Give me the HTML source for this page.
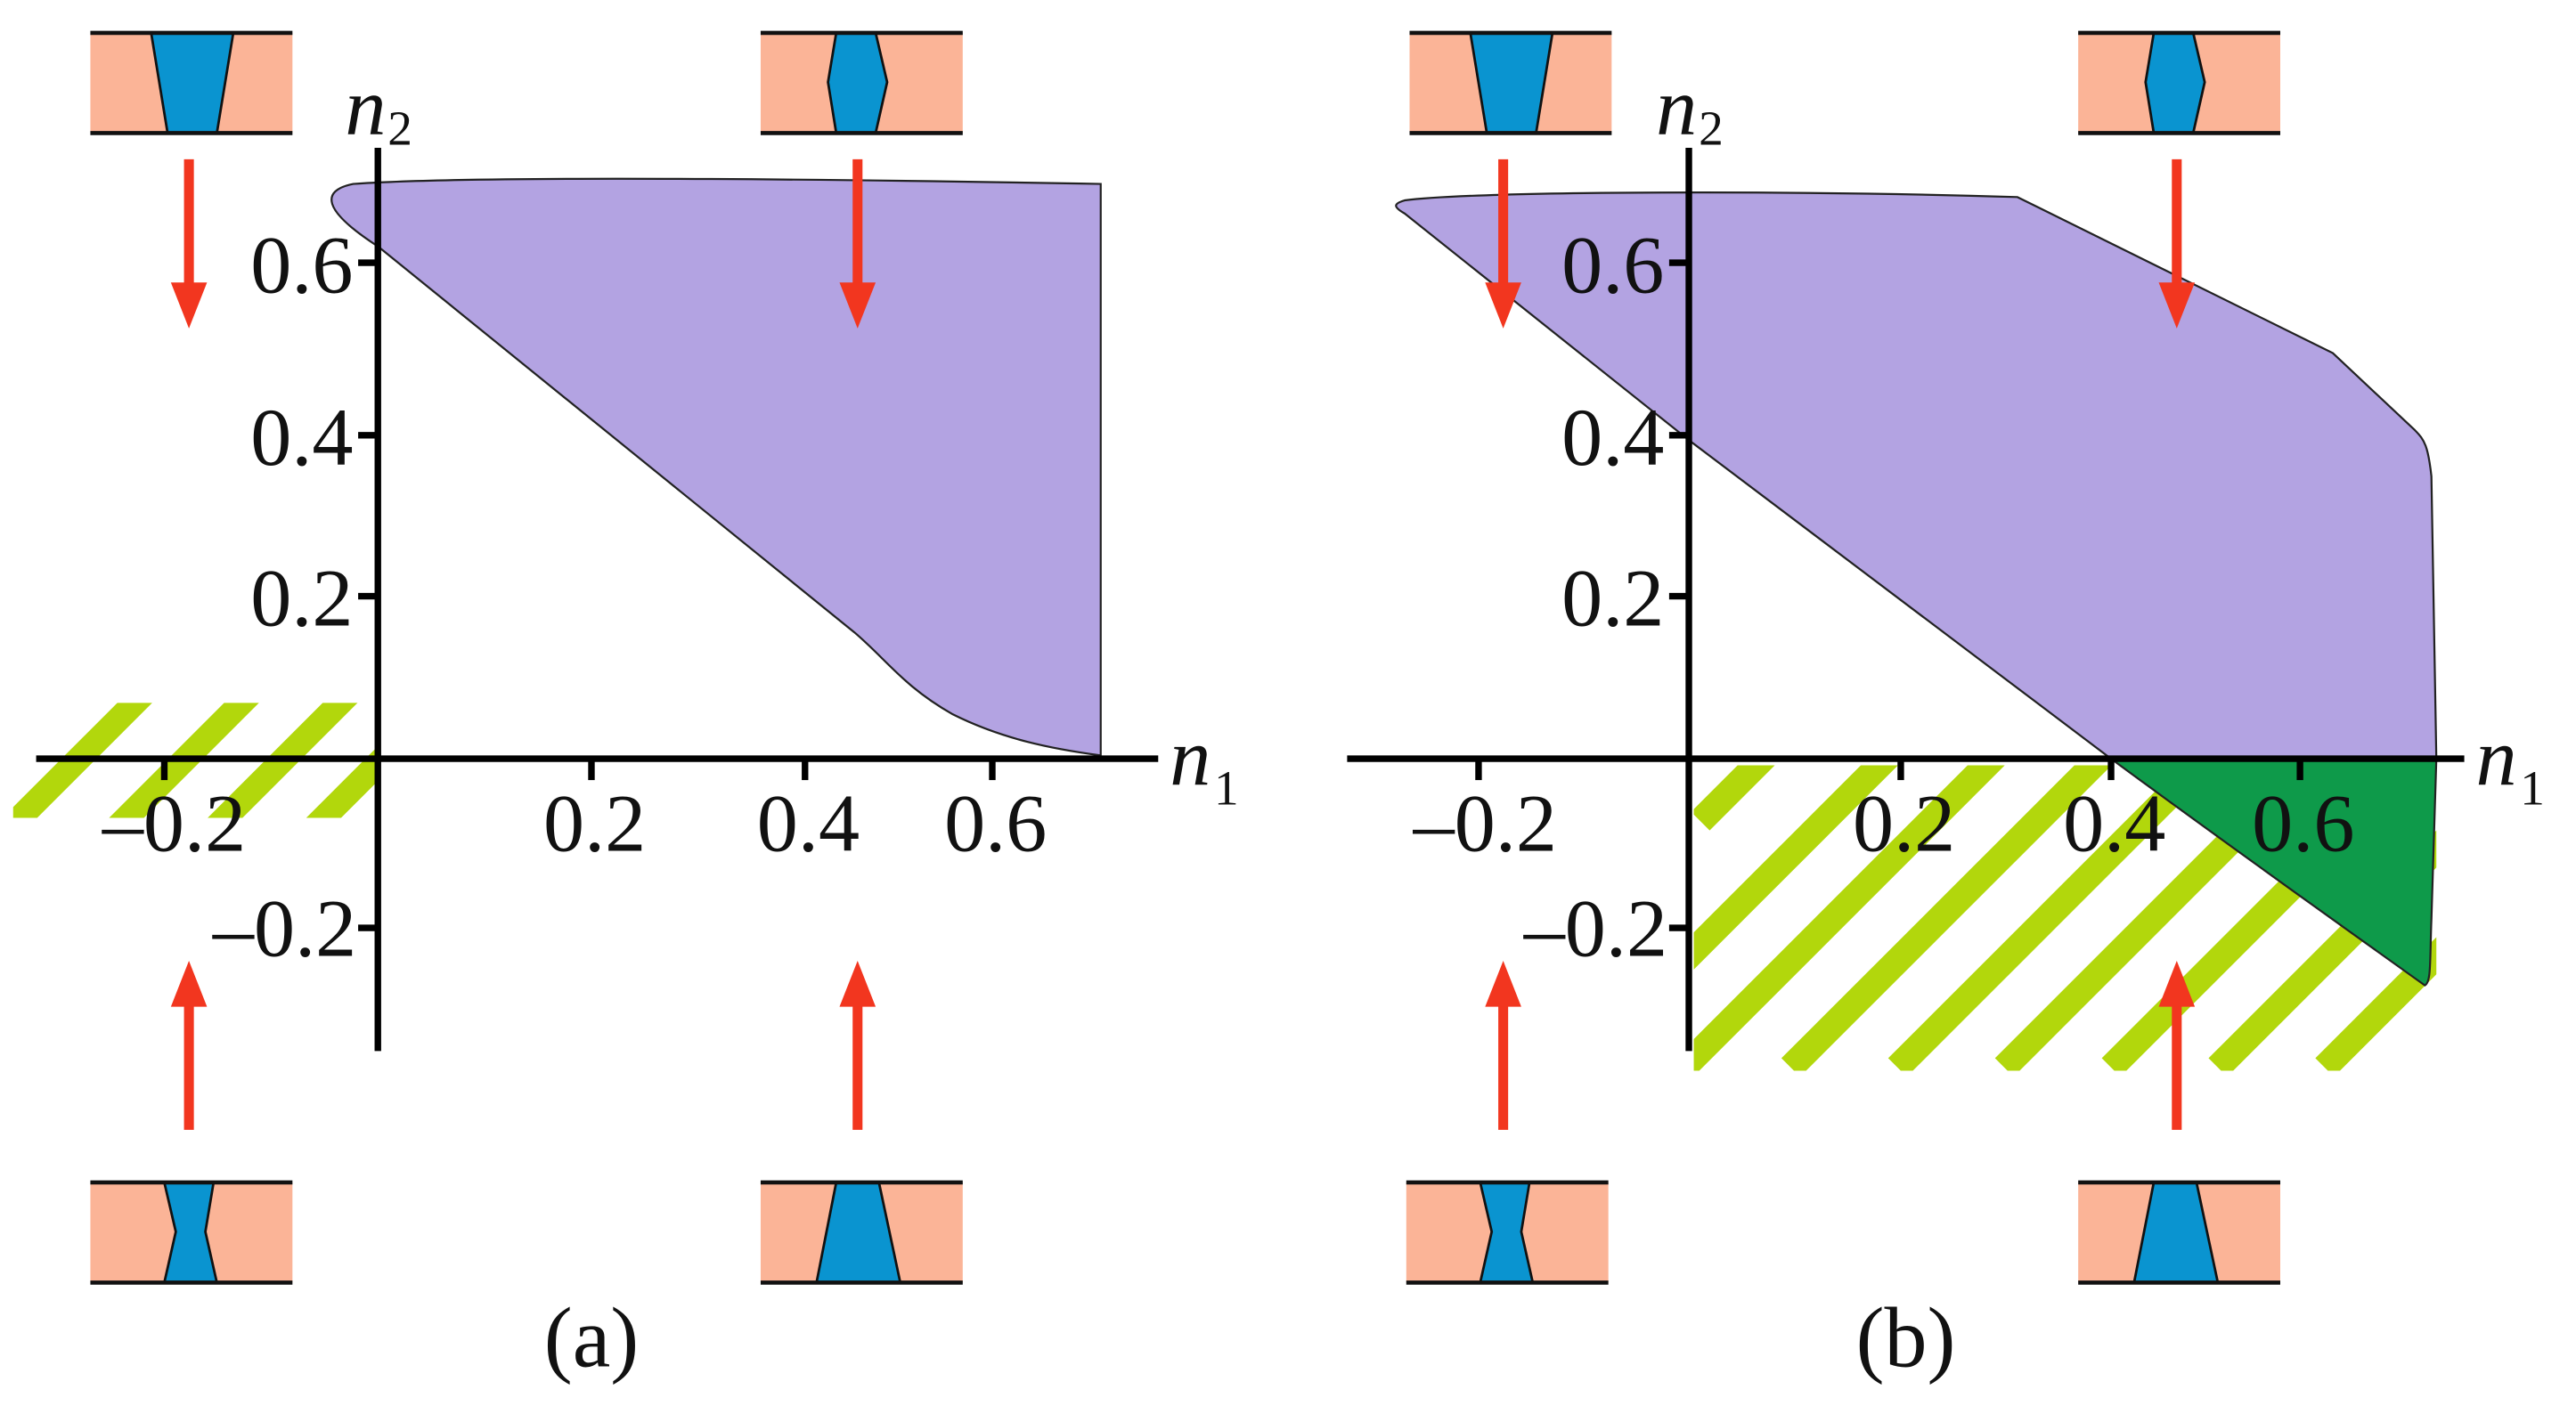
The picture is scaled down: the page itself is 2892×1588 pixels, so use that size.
<!DOCTYPE html>
<html><head><meta charset="utf-8"><style>html,body{margin:0;padding:0;background:#fff}svg{display:block}</style></head>
<body>
<svg width="2892" height="1588" viewBox="0 0 1568 861" xmlns="http://www.w3.org/2000/svg" font-family="'Liberation Serif',serif">
<defs>
<clipPath id="ca"><rect x="8" y="428" width="222" height="70"/></clipPath>
<clipPath id="cb"><rect x="1031" y="466" width="452" height="186"/></clipPath>
<g id="arrD"><line x1="0" y1="97" x2="0" y2="175" stroke="#f2361f" stroke-width="6"/><polygon points="-11,172 11,172 0,200" fill="#f2361f"/></g>
<g id="arrU"><line x1="0" y1="688" x2="0" y2="610" stroke="#f2361f" stroke-width="6"/><polygon points="-11,613 11,613 0,585" fill="#f2361f"/></g>
<g id="ic1"><rect x="0" y="20" width="123" height="61" fill="#fbb497"/><polygon points="37,20 87,20 77,81 47,81" fill="#0a94d0" stroke="#111" stroke-width="1.5"/><line x1="0" y1="20" x2="123" y2="20" stroke="#111" stroke-width="2.5"/><line x1="0" y1="81" x2="123" y2="81" stroke="#111" stroke-width="2.5"/></g>
<g id="ic2"><rect x="0" y="20" width="123" height="61" fill="#fbb497"/><polygon points="46,20 70,20 77,50 70,81 46,81 41,50" fill="#0a94d0" stroke="#111" stroke-width="1.5"/><line x1="0" y1="20" x2="123" y2="20" stroke="#111" stroke-width="2.5"/><line x1="0" y1="81" x2="123" y2="81" stroke="#111" stroke-width="2.5"/></g>
<g id="ic3"><rect x="0" y="720" width="123" height="61" fill="#fbb497"/><polygon points="45,720 75,720 70,750 77,781 45,781 52,750" fill="#0a94d0" stroke="#111" stroke-width="1.5"/><line x1="0" y1="720" x2="123" y2="720" stroke="#111" stroke-width="2.5"/><line x1="0" y1="781" x2="123" y2="781" stroke="#111" stroke-width="2.5"/></g>
<g id="ic4"><rect x="0" y="720" width="123" height="61" fill="#fbb497"/><polygon points="46,720 72,720 85,781 34,781" fill="#0a94d0" stroke="#111" stroke-width="1.5"/><line x1="0" y1="720" x2="123" y2="720" stroke="#111" stroke-width="2.5"/><line x1="0" y1="781" x2="123" y2="781" stroke="#111" stroke-width="2.5"/></g>
</defs>

<!-- Panel a -->
<g clip-path="url(#ca)" stroke="#b2d70c" stroke-width="15">
<line x1="0" y1="510" x2="90" y2="420"/><line x1="65" y1="510" x2="155" y2="420"/><line x1="125" y1="510" x2="215" y2="420"/><line x1="185" y1="510" x2="275" y2="420"/>
</g>
<path d="M230,150 L520,385 C540,402 550,418 580,435 C610,450 640,456 670,460 L670,112 C560,110 300,106 215,112 C195,116 196,128 230,150 Z" fill="#b3a3e2" stroke="#222" stroke-width="1.2"/>
<g stroke="#000" stroke-width="4">
<line x1="230" y1="90" x2="230" y2="640"/><line x1="22" y1="462" x2="705" y2="462"/>
<line x1="218" y1="160" x2="230" y2="160"/><line x1="218" y1="265" x2="230" y2="265"/><line x1="218" y1="363" x2="230" y2="363"/><line x1="218" y1="565" x2="230" y2="565"/>
<line x1="360" y1="462" x2="360" y2="475"/><line x1="490" y1="462" x2="490" y2="475"/><line x1="604" y1="462" x2="604" y2="475"/><line x1="100" y1="462" x2="100" y2="475"/>
</g>
<g font-size="50" fill="#111">
<text x="215" y="178" text-anchor="end">0.6</text><text x="215" y="283" text-anchor="end">0.4</text><text x="215" y="381" text-anchor="end">0.2</text><text x="217" y="582" text-anchor="end">–0.2</text>
<text x="362" y="518" text-anchor="middle">0.2</text><text x="492" y="518" text-anchor="middle">0.4</text><text x="606" y="518" text-anchor="middle">0.6</text><text x="106" y="518" text-anchor="middle">–0.2</text>
<text x="210" y="82" font-style="italic" font-size="50">n</text><text x="236" y="88" font-size="30">2</text>
<text x="712" y="478" font-style="italic" font-size="50">n</text><text x="739" y="490" font-size="30">1</text>
<text x="360" y="832" text-anchor="middle" font-size="52">(a)</text>
</g>
<use href="#arrD" x="115"/><use href="#arrD" x="522"/><use href="#arrU" x="115"/><use href="#arrU" x="522"/>
<use href="#ic1" x="55"/><use href="#ic2" x="463"/><use href="#ic3" x="55"/><use href="#ic4" x="463"/>

<!-- Panel b -->
<g clip-path="url(#cb)" stroke="#b2d70c" stroke-width="16">
<line x1="1335" y1="200" x2="1035" y2="500"/>
<line x1="1500" y1="110" x2="1000" y2="610"/>
<line x1="1565" y1="110" x2="1025" y2="650"/>
<line x1="1630" y1="110" x2="1090" y2="650"/>
<line x1="1695" y1="110" x2="1155" y2="650"/>
<line x1="1760" y1="110" x2="1220" y2="650"/>
<line x1="1825" y1="110" x2="1285" y2="650"/>
<line x1="1890" y1="110" x2="1350" y2="650"/>
<line x1="1955" y1="110" x2="1415" y2="650"/>
</g>
<path d="M855,130 L1028,268 L1285,462 L1483,462 L1480,290 C1478,272 1476,268 1470,262 L1420,215 L1228,120 C1100,116 900,116 855,122 C848,124 848,126 855,130 Z" fill="#b3a3e2" stroke="#222" stroke-width="1.2"/>
<path d="M1285,462 L1483,462 L1480,560 C1479,585 1480,598 1476,600 C1420,560 1350,510 1285,462 Z" fill="#0e9a4a" stroke="#222" stroke-width="1.2"/>
<g stroke="#000" stroke-width="4">
<line x1="1028" y1="90" x2="1028" y2="640"/><line x1="820" y1="462" x2="1500" y2="462"/>
<line x1="1016" y1="160" x2="1028" y2="160"/><line x1="1016" y1="265" x2="1028" y2="265"/><line x1="1016" y1="363" x2="1028" y2="363"/><line x1="1016" y1="565" x2="1028" y2="565"/>
<line x1="1157" y1="462" x2="1157" y2="475"/><line x1="1285" y1="462" x2="1285" y2="475"/><line x1="1400" y1="462" x2="1400" y2="475"/><line x1="900" y1="462" x2="900" y2="475"/>
</g>
<g font-size="50" fill="#111">
<text x="1013" y="178" text-anchor="end">0.6</text><text x="1013" y="283" text-anchor="end">0.4</text><text x="1013" y="381" text-anchor="end">0.2</text><text x="1015" y="582" text-anchor="end">–0.2</text>
<text x="1159" y="518" text-anchor="middle">0.2</text><text x="1287" y="518" text-anchor="middle">0.4</text><text x="1402" y="518" text-anchor="middle">0.6</text><text x="904" y="518" text-anchor="middle">–0.2</text>
<text x="1008" y="82" font-style="italic" font-size="50">n</text><text x="1034" y="88" font-size="30">2</text>
<text x="1507" y="478" font-style="italic" font-size="50">n</text><text x="1534" y="490" font-size="30">1</text>
<text x="1160" y="832" text-anchor="middle" font-size="52">(b)</text>
</g>
<use href="#arrD" x="915"/><use href="#arrD" x="1325"/><use href="#arrU" x="915"/><use href="#arrU" x="1325"/>
<use href="#ic1" x="858"/><use href="#ic2" x="1265"/><use href="#ic3" x="856"/><use href="#ic4" x="1265"/>
</svg>
</body></html>
